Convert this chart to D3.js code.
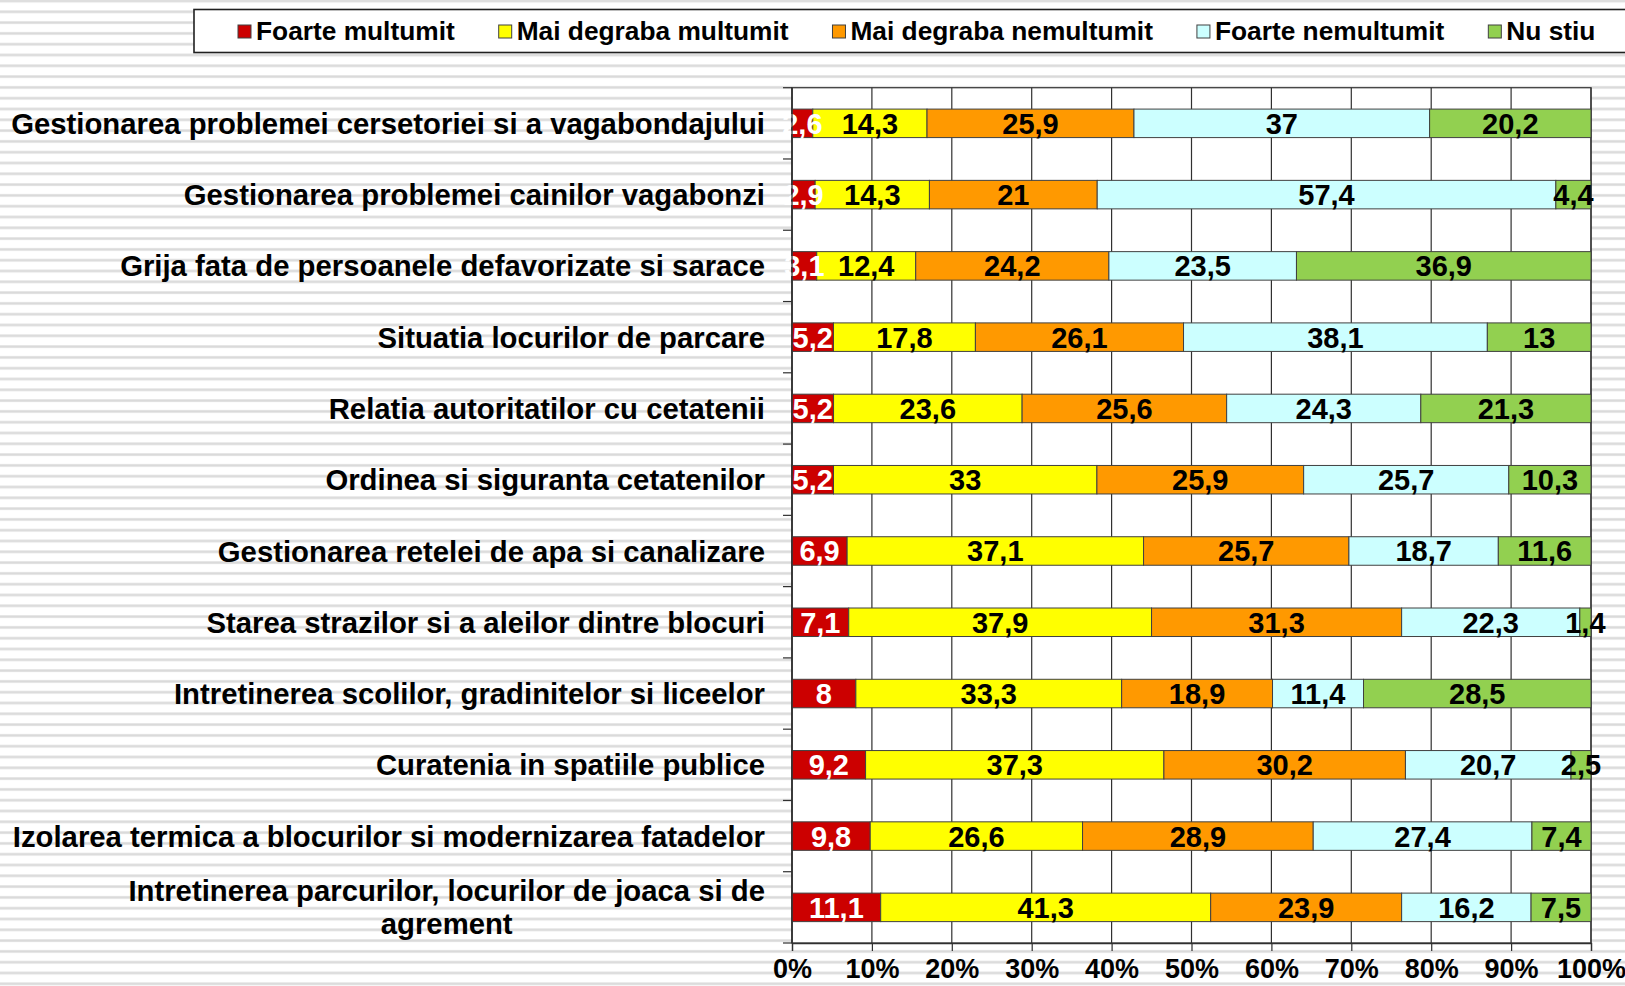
<!DOCTYPE html>
<html>
<head>
<meta charset="utf-8">
<script src="https://cdn.jsdelivr.net/npm/d3@7"></script>
<style>
  html, body { margin: 0; padding: 0; background: #fff; }
  svg { display: block; font-family: "Liberation Sans", Arial, sans-serif; font-weight: bold; }
</style>
</head>
<body>
<svg id="chart"></svg>
<script>
const width = 1625;
const height = 986;

const categories = [
  'Gestionarea problemei cersetoriei si a vagabondajului',
  'Gestionarea problemei cainilor vagabonzi',
  'Grija fata de persoanele defavorizate si sarace',
  'Situatia locurilor de parcare',
  'Relatia autoritatilor cu cetatenii',
  'Ordinea si siguranta cetatenilor',
  'Gestionarea retelei de apa si canalizare',
  'Starea strazilor si a aleilor dintre blocuri',
  'Intretinerea scolilor, gradinitelor si liceelor',
  'Curatenia in spatiile publice',
  'Izolarea termica a blocurilor si modernizarea fatadelor',
  'Intretinerea parcurilor, locurilor de joaca si de agrement'
];

const foarteMultumit     = [2.6, 2.9, 3.1, 5.2, 5.2, 5.2, 6.9, 7.1, 8, 9.2, 9.8, 11.1];
const maiDegrabaMultumit = [14.3, 14.3, 12.4, 17.8, 23.6, 33, 37.1, 37.9, 33.3, 37.3, 26.6, 41.3];
const maiDegrabaNemult   = [25.9, 21, 24.2, 26.1, 25.6, 25.9, 25.7, 31.3, 18.9, 30.2, 28.9, 23.9];
const foarteNemultumit   = [37, 57.4, 23.5, 38.1, 24.3, 25.7, 18.7, 22.3, 11.4, 20.7, 27.4, 16.2];
const nuStiu             = [20.2, 4.4, 36.9, 13, 21.3, 10.3, 11.6, 1.4, 28.5, 2.5, 7.4, 7.5];

const seriesNames = ['Foarte multumit', 'Mai degraba multumit', 'Mai degraba nemultumit', 'Foarte nemultumit', 'Nu stiu'];
const seriesValues = [foarteMultumit, maiDegrabaMultumit, maiDegrabaNemult, foarteNemultumit, nuStiu];
const seriesColors = ['#cc0000', '#ffff00', '#ff9900', '#ccffff', '#92d050'];
const labelColors = ['#ffffff', '#000000', '#000000', '#000000', '#000000'];

const xTicks = d3.range(0, 1.01, 0.1);

const margin = { top: 87.7, right: 34, bottom: 43, left: 792 };

const svg = d3.select('#chart')
  .attr('width', width)
  .attr('height', height);

// striped slide background
const defs = svg.append('defs');
const pat = defs.append('pattern')
  .attr('id', 'stripes')
  .attr('patternUnits', 'userSpaceOnUse')
  .attr('width', 20)
  .attr('height', 10.8)
  .attr('y', -0.5);
pat.append('rect').attr('width', 20).attr('height', 10.8).attr('fill', '#ffffff');
pat.append('rect').attr('y', 0).attr('width', 20).attr('height', 3).attr('fill', '#e6e6e6');
pat.append('rect').attr('y', 0.8).attr('width', 20).attr('height', 1.4).attr('fill', '#d9d9d9');

svg.append('rect')
  .attr('width', width)
  .attr('height', height)
  .attr('fill', 'url(#stripes)');

// data rows, normalised to 100%
const rows = categories.map((c, i) => {
  const vals = seriesValues.map(s => s[i]);
  const total = d3.sum(vals);
  let acc = 0;
  return {
    name: c,
    segs: vals.map((v, k) => {
      const s = { k, v, x0: acc / total, x1: (acc + v) / total };
      acc += v;
      return s;
    })
  };
});

const x = d3.scaleLinear()
  .domain([0, 1])
  .range([margin.left, width - margin.right]);

const y = d3.scaleBand()
  .domain(categories)
  .range([margin.top, height - margin.bottom])
  .paddingInner(0.6)
  .paddingOuter(0.3);

const band = d3.scaleBand().domain(categories).range([margin.top, height - margin.bottom]);

// plot area
svg.append('rect')
  .attr('x', x(0))
  .attr('y', margin.top)
  .attr('width', x(1) - x(0))
  .attr('height', height - margin.bottom - margin.top)
  .attr('fill', '#ffffff')
  .attr('stroke', '#404040')
  .attr('stroke-width', 1.3);

// vertical grid
svg.append('g')
  .selectAll('line')
  .data(xTicks)
  .enter().append('line')
  .attr('x1', d => x(d)).attr('x2', d => x(d))
  .attr('y1', margin.top).attr('y2', height - margin.bottom)
  .attr('stroke', '#303030')
  .attr('stroke-width', 1.2);

// bars
const rowG = svg.append('g')
  .selectAll('g')
  .data(rows)
  .enter().append('g');

rowG.selectAll('rect')
  .data(d => d.segs.map(s => Object.assign({ row: d.name }, s)))
  .enter().append('rect')
  .attr('x', d => x(d.x0))
  .attr('y', d => y(d.row))
  .attr('width', d => x(d.x1) - x(d.x0))
  .attr('height', y.bandwidth())
  .attr('fill', d => seriesColors[d.k])
  .attr('stroke', '#404040')
  .attr('stroke-width', 1);

rowG.selectAll('text')
  .data(d => d.segs.map(s => Object.assign({ row: d.name }, s)))
  .enter().append('text')
  .attr('x', d => (x(d.x0) + x(d.x1)) / 2)
  .attr('y', d => y(d.row) + y.bandwidth() / 2)
  .attr('dy', '0.36em')
  .attr('text-anchor', 'middle')
  .attr('font-size', 29)
  .attr('fill', d => labelColors[d.k])
  .text(d => String(d.v).replace('.', ','));

// axes
const xAxis = d3.axisBottom(x)
  .tickValues(xTicks)
  .tickFormat(d3.format('.0%'))
  .tickSize(8)
  .tickPadding(8);

const gx = svg.append('g')
  .attr('transform', `translate(0,${height - margin.bottom})`)
  .call(xAxis);
gx.select('.domain').attr('stroke', '#303030').attr('stroke-width', 1.3);
gx.selectAll('.tick line').attr('stroke', '#303030').attr('stroke-width', 1.2);
gx.selectAll('.tick text')
  .attr('font-size', 27)
  .attr('font-family', null)
  .attr('fill', '#000');

// y axis: ticks at band boundaries
const bounds = categories.map(c => band(c)).concat([height - margin.bottom]);
svg.append('line')
  .attr('x1', x(0)).attr('x2', x(0))
  .attr('y1', margin.top).attr('y2', height - margin.bottom)
  .attr('stroke', '#303030').attr('stroke-width', 1.3);
svg.append('g')
  .selectAll('line')
  .data(bounds)
  .enter().append('line')
  .attr('x1', x(0) - 9).attr('x2', x(0))
  .attr('y1', d => d).attr('y2', d => d)
  .attr('stroke', '#303030').attr('stroke-width', 1.2);

// category labels
const labelX = x(0) - 27;
const catSize = 29.3;
const catG = svg.append('g');
categories.forEach((c, i) => {
  const cy = band(c) + band.bandwidth() / 2;
  if (i === categories.length - 1) {
    const t1 = catG.append('text')
      .attr('x', labelX).attr('y', cy - 17).attr('dy', '0.36em')
      .attr('text-anchor', 'end').attr('font-size', catSize)
      .text('Intretinerea parcurilor, locurilor de joaca si de');
    const w = t1.node().getComputedTextLength();
    catG.append('text')
      .attr('x', labelX - w / 2).attr('y', cy + 16).attr('dy', '0.36em')
      .attr('text-anchor', 'middle').attr('font-size', catSize)
      .text('agrement');
  } else {
    catG.append('text')
      .attr('x', labelX).attr('y', cy).attr('dy', '0.36em')
      .attr('text-anchor', 'end').attr('font-size', catSize)
      .text(c);
  }
});

// legend
const legend = svg.append('g');
legend.append('rect')
  .attr('x', 194).attr('y', 9.5)
  .attr('width', 1460).attr('height', 43)
  .attr('fill', '#ffffff')
  .attr('stroke', '#202020')
  .attr('stroke-width', 1.6);

let lx = 238;
seriesNames.forEach((n, k) => {
  legend.append('rect')
    .attr('x', lx).attr('y', 25)
    .attr('width', 13).attr('height', 13)
    .attr('fill', seriesColors[k])
    .attr('stroke', '#404040')
    .attr('stroke-width', 1);
  const t = legend.append('text')
    .attr('x', lx + 18).attr('y', 31).attr('dy', '0.36em')
    .attr('font-size', 26.3)
    .text(n);
  lx += 18 + t.node().getComputedTextLength() + 44;
});
</script>
</body>
</html>
